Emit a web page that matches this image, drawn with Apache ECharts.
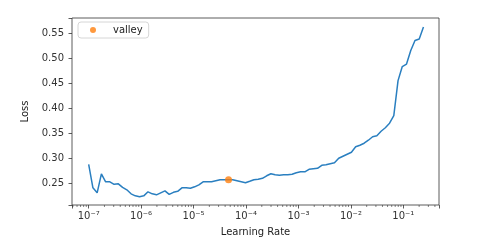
<!DOCTYPE html>
<html><head><meta charset="utf-8">
<script src="https://cdn.jsdelivr.net/npm/echarts@6/dist/echarts.min.js"></script>
<style>html,body{margin:0;padding:0;background:#fff}#c{width:496px;height:246px}</style>
</head><body><div id="c"></div>
<script>
// learning rates (x values)
const learningRates = [
1.000e-7,1.205e-7,1.451e-7,1.748e-7,2.105e-7,2.535e-7,3.054e-7,3.678e-7,4.430e-7,5.337e-7,
6.428e-7,7.743e-7,9.326e-7,1.123e-6,1.353e-6,1.630e-6,1.963e-6,2.364e-6,2.848e-6,3.430e-6,
4.132e-6,4.977e-6,5.995e-6,7.221e-6,8.697e-6,1.048e-5,1.262e-5,1.520e-5,1.831e-5,2.205e-5,
2.656e-5,3.199e-5,3.854e-5,4.642e-5,5.591e-5,6.734e-5,8.111e-5,9.770e-5,1.177e-4,1.417e-4,
1.707e-4,2.056e-4,2.477e-4,2.983e-4,3.594e-4,4.329e-4,5.214e-4,6.280e-4,7.565e-4,9.112e-4,
1.098e-3,1.322e-3,1.592e-3,1.918e-3,2.310e-3,2.783e-3,3.352e-3,4.037e-3,4.863e-3,5.857e-3,
7.055e-3,8.498e-3,1.024e-2,1.233e-2,1.485e-2,1.789e-2,2.154e-2,2.595e-2,3.126e-2,3.765e-2,
4.535e-2,5.462e-2,6.579e-2,7.925e-2,9.545e-2,0.1150,0.1385,0.1668,0.2009,0.2420
];
// loss values
const losses = [
0.288,0.241,0.231,0.269,0.253,0.253,0.248,0.249,0.242,0.237,
0.229,0.225,0.223,0.225,0.233,0.229,0.227,0.231,0.235,0.228,
0.232,0.234,0.241,0.241,0.240,0.243,0.247,0.253,0.253,0.253,
0.255,0.257,0.257,0.257,0.257,0.255,0.253,0.251,0.254,0.257,
0.258,0.260,0.265,0.269,0.267,0.266,0.267,0.267,0.268,0.271,
0.273,0.273,0.278,0.279,0.280,0.286,0.287,0.289,0.291,0.300,
0.304,0.308,0.312,0.323,0.326,0.330,0.336,0.343,0.345,0.354,
0.361,0.370,0.385,0.455,0.483,0.488,0.515,0.535,0.538,0.562
];
// valley point
const valleyLr = [4.642e-5];
const valleyLoss = [0.257];
// minor tick positions (log axis)
const minorTicks = [];
[-8,-7,-6,-5,-4,-3,-2,-1].forEach(function(d){
  [2,3,4,5,6,7,8,9].forEach(function(k){ minorTicks.push(k*Math.pow(10,d)); });
});

const xMin = Math.pow(10,-7.318), xMax = Math.pow(10,-0.32);
const yMin = 0.2067, yMax = 0.580;
const sup = {'-':'\u207B','0':'\u2070','1':'\u00B9','2':'\u00B2','3':'\u00B3','4':'\u2074','5':'\u2075','6':'\u2076','7':'\u2077','8':'\u2078','9':'\u2079'};
const FONT = 'DejaVu Sans';

const chart = echarts.init(document.getElementById('c'), null, {renderer:'canvas'});
chart.setOption({
  animation:false,
  backgroundColor:'#fff',
  textStyle:{fontFamily:FONT},
  grid:{left:72,top:18,right:57,bottom:41,show:true,borderColor:'#333',borderWidth:0.8,backgroundColor:'transparent'},
  legend:{
    left:78, top:22, orient:'vertical',
    data:[{name:'valley',icon:'circle'}],
    itemWidth:6,itemHeight:6,
    padding:[3,6,3,12],
    borderColor:'#ccc',borderWidth:0.8,borderRadius:3,backgroundColor:'#fff',
    textStyle:{fontFamily:FONT,fontSize:10,color:'#222',padding:[0,0,0,12]}
  },
  xAxis:{
    type:'log',logBase:10,min:xMin,max:xMax,
    name:'Learning Rate',nameLocation:'middle',nameGap:22,
    nameTextStyle:{fontFamily:FONT,fontSize:10,color:'#222'},
    axisLine:{show:false},
    axisTick:{show:true,length:3.5,lineStyle:{color:'#333',width:0.8}},
    splitLine:{show:false},
    axisLabel:{fontFamily:FONT,fontSize:10,color:'#333',margin:6,
      formatter:function(v){
        const e = Math.log10(v); const r = Math.round(e);
        if (Math.abs(e-r)>1e-6) return '';
        return '10' + String(r).split('').map(function(c){return sup[c];}).join('');
      }}
  },
  yAxis:{
    type:'value',min:yMin,max:yMax,splitNumber:7,
    name:'Loss',nameLocation:'middle',nameGap:36,nameRotate:90,
    nameTextStyle:{fontFamily:FONT,fontSize:10,color:'#222'},
    axisLine:{show:false},
    axisTick:{show:true,length:3.5,lineStyle:{color:'#333',width:0.8}},
    splitLine:{show:false},
    axisLabel:{fontFamily:FONT,fontSize:10,color:'#333',margin:8,
      formatter:function(v){
        const q = v*20; if (Math.abs(q-Math.round(q))>1e-6) return '';
        return v.toFixed(2);
      }}
  },
  series:[
    {type:'line',name:'loss',data:learningRates.map(function(x,i){return [x,losses[i]];}),
     showSymbol:false,symbol:'none',lineStyle:{color:'#2a7fc0',width:1.5},z:2},
    {type:'scatter',name:'valley',data:valleyLr.map(function(x,i){return [x,valleyLoss[i]];}),
     symbol:'circle',symbolSize:7,itemStyle:{color:'#ff7f0e'},z:3},
    {type:'custom',name:'minor',silent:true,clip:false,
     data:minorTicks.filter(function(v){return v>=xMin&&v<=xMax;}).map(function(v){return [v,yMin];}),
     renderItem:function(params,api){
       const p = api.coord([api.value(0),api.value(1)]);
       return {type:'line',shape:{x1:p[0],y1:p[1],x2:p[0],y2:p[1]+2},style:{stroke:'#333',lineWidth:0.6}};
     },z:1}
  ]
});
</script></body></html>
